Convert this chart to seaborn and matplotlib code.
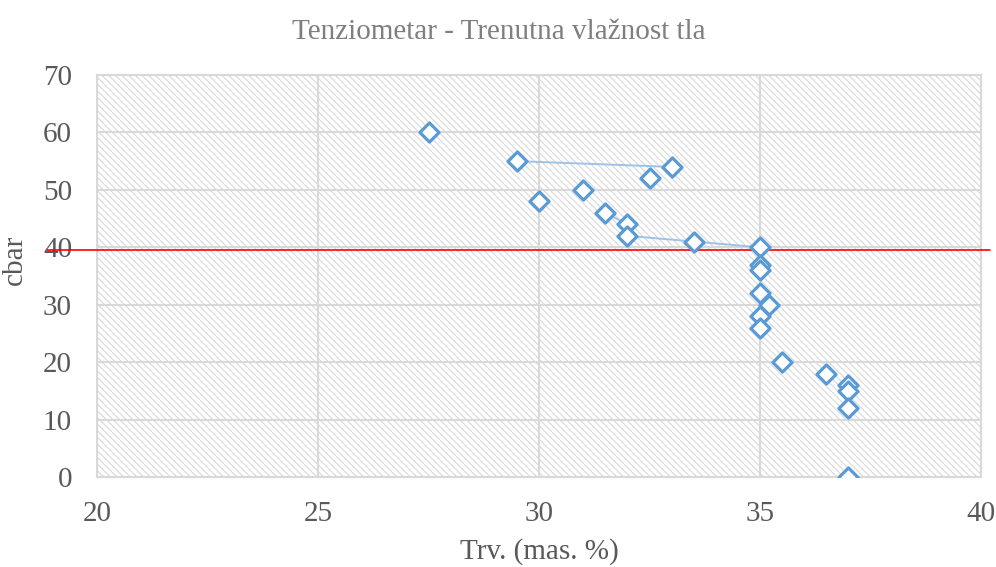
import matplotlib
matplotlib.use("Agg")
import matplotlib.pyplot as plt
import seaborn as sns
import pandas as pd
from matplotlib.patches import Rectangle

# measured points (Trv. mas. %, cbar)
trv = [27.5, 29.5, 33.0, 32.5, 30.0, 31.0, 31.5, 32.0, 32.0, 33.5, 35.0,
       35.0, 35.0, 35.0, 35.2, 35.0, 35.0, 35.5, 36.5, 37.0, 37.0, 37.0, 37.0]
cbar = [60, 55, 54, 52, 48, 50, 46, 44, 42, 41, 40,
        37, 36, 32, 30, 28, 26, 20, 18, 16, 15, 12, 0]

# connecting segments seen in the chart
seg_a_x = [29.5, 33.0]
seg_a_y = [55, 54]
seg_b_x = [31.5, 32.0]
seg_b_y = [46, 44]
seg_c_x = [32.0, 33.5, 35.0]
seg_c_y = [42, 41, 40]

limit_cbar = 39.5

df = pd.DataFrame({"trv": trv, "cbar": cbar})

sns.set_style("white")
plt.rcParams['font.family'] = ['Liberation Serif', 'DejaVu Serif']
plt.rcParams['hatch.linewidth'] = 0.9

fig = plt.figure(figsize=(9.96, 5.67), dpi=100)
ax = fig.add_axes([0.0974, 0.1587, 0.8876, 0.709])

# hatched plot area
ax.add_patch(Rectangle((0, 0), 1, 1, transform=ax.transAxes, facecolor='white',
                       edgecolor='#dcdcdc', linewidth=0, hatch='\\' * 5, zorder=0))

ax.grid(True, color='#d9d9d9', linewidth=1.5, zorder=1)
ax.set_axisbelow(True)

line_col = '#9dc3e6'
for sx, sy in [(seg_a_x, seg_a_y), (seg_b_x, seg_b_y), (seg_c_x, seg_c_y)]:
    sns.lineplot(x=sx, y=sy, ax=ax, color=line_col, linewidth=1.4, zorder=2,
                 sort=False, estimator=None)

sns.scatterplot(data=df, x="trv", y="cbar", ax=ax, marker='D', s=95,
                facecolor='white', edgecolor='#5b9bd5', linewidth=2.3, zorder=4)

ax.plot([18.87, 40.2], [limit_cbar, limit_cbar], color='#ff0000', linewidth=1.2,
        clip_on=False, zorder=3)

ax.set_xlim(20, 40)
ax.set_ylim(0, 70)
ax.set_xticks(range(20, 41, 5))
ax.set_yticks(range(0, 71, 10))
for s in ax.spines.values():
    s.set_color('#d9d9d9')
    s.set_linewidth(1.5)
ax.tick_params(axis='both', labelsize=21, colors='#595959', length=0)
ax.tick_params(axis='y', pad=18)
ax.tick_params(axis='x', pad=17)

ax.set_xlabel('Trv. (mas. %)', fontsize=21, color='#595959', labelpad=8)
ax.set_ylabel('cbar', fontsize=21, color='#595959')
ax.yaxis.set_label_coords(-0.078, 0.54)
ax.set_title('Tenziometar - Trenutna vlažnost tla', fontsize=21, color='#7f7f7f',
             pad=26, x=0.455)

fig.savefig('out.png', dpi=100)
